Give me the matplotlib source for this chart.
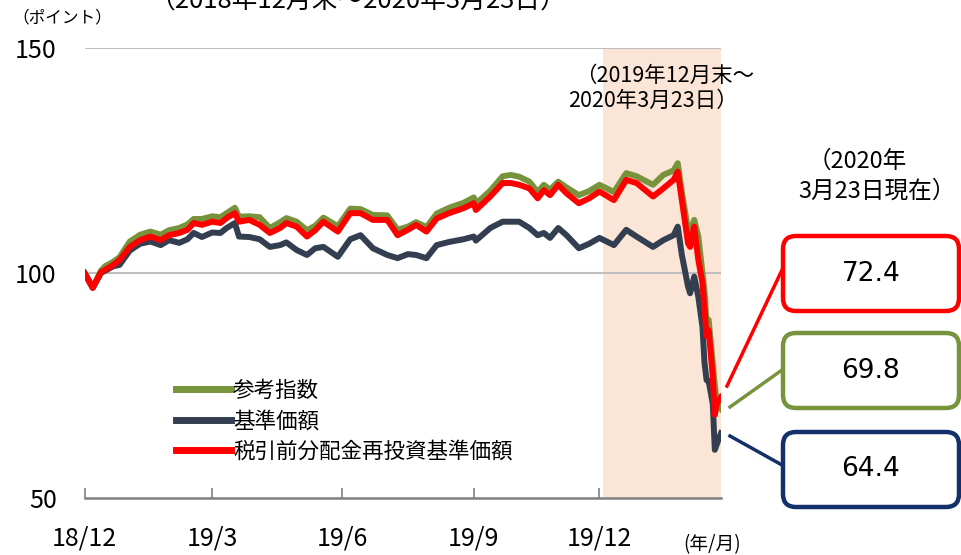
import matplotlib
matplotlib.use("Agg")
import matplotlib.pyplot as plt
from matplotlib.patches import FancyBboxPatch
from matplotlib.lines import Line2D

plt.rcParams['font.family'] = ['Noto Sans CJK JP', 'DejaVu Sans']

# business-day index (0 = 2018/12 end, 309 = 2020/3/23)
x_idx = [0, 4, 8, 10, 14, 17, 22, 27, 32, 37,
         41, 46, 50, 53, 57, 62, 66, 69, 73, 75,
         80, 85, 90, 95, 98, 103, 108, 112, 116, 123,
         129, 134, 140, 147, 152, 157, 161, 166, 171, 177,
         184, 189, 190, 197, 203, 207, 211, 216, 220, 223,
         226, 230, 234, 240, 245, 250, 257, 263, 268, 276,
         281, 286, 288, 290, 293, 294, 296, 298, 300, 301,
         302, 303, 305, 306, 307, 309]

ref_index = [100, 96.8, 100.5, 101.5, 102.5, 103.5, 107, 108.5, 109.2, 108.5,
             109.5, 110, 110.8, 112, 112, 112.6, 112.4, 113.3, 114.5, 112.5,
             112.6, 112.4, 110, 111.3, 112.2, 111.4, 109.5, 110.5, 112.3, 110.4,
             114.3, 114.2, 112.9, 112.8, 109.6, 110.3, 111.3, 110.2, 113.2, 114.5,
             115.6, 116.8, 115.4, 118.3, 121.5, 121.8, 121.4, 120.3, 118, 119.6,
             118.5, 120.3, 119, 117.3, 118.2, 119.6, 118, 122.2, 121.5, 119.6,
             121.8, 122.8, 124.4, 118, 109.6, 109, 111.8, 108.1, 100, 96,
             89, 89.6, 80, 75, 71, 69.8]

nav = [100, 96.7, 100, 100.5, 101.5, 101.8, 105, 106.5, 107, 106.2,
       107.3, 106.7, 107.5, 108.9, 108, 109, 108.9, 110, 111.1, 108.1,
       108, 107.5, 105.8, 106.2, 106.8, 105.1, 104, 105.5, 105.8, 103.6,
       107.5, 108.4, 105.5, 104, 103.3, 104.2, 104, 103.3, 106.2, 106.9,
       107.5, 108.1, 107.2, 110, 111.4, 111.4, 111.4, 110, 108.4, 108.9,
       107.8, 110, 108.4, 105.5, 106.5, 107.8, 106.2, 109.6, 108.1, 105.8,
       107.3, 108.4, 110.3, 104, 97, 95.5, 99.2, 94.7, 88, 80,
       76.2, 76, 71, 60.7, 62, 64.4]

nav_reinv = [100, 96.7, 100.2, 100.7, 101.8, 102.9, 105.8, 107.3, 108.1, 107.3,
             108.4, 108.9, 109.6, 111.1, 110.7, 111.4, 111.1, 112.2, 113.3, 111.4,
             111.8, 110.7, 108.9, 110, 111.1, 110.3, 108.1, 109.5, 111.4, 109.2,
             113.3, 113.3, 111.8, 111.8, 108.4, 109.6, 110.7, 109.2, 112.1, 113.3,
             114.4, 115.5, 114, 117, 120, 120, 119.6, 118.8, 116.6, 118.4,
             117.3, 119.6, 117.7, 115.5, 116.6, 118.1, 116.2, 120.7, 120, 117,
             118.8, 120.7, 122.5, 116.2, 106.6, 105.8, 110.3, 102.9, 97.8, 92,
             86, 87.3, 77, 68.5, 71, 72.4]

tick_pos = [0, 62, 125, 189, 250]
tick_lab = ["18/12", "19/3", "19/6", "19/9", "19/12"]
latest = ["72.4", "69.8", "64.4"]

c_green = "#77933C"
c_navy = "#333F50"
c_red = "#FF0000"

fig = plt.figure(figsize=(9.62, 5.55), dpi=100)
ax = fig.add_axes([84.5/962, 1-498/555, (721-84.5)/962, 450/555])

ax.axvspan(251.5, 309, color="#FBE5D6", lw=0, zorder=0)
for yv in [100, 150]:
    ax.axhline(yv, color="#BFBFBF", lw=1.5, zorder=1)

ax.plot(x_idx, ref_index, color=c_green, lw=4.3, label="参考指数", zorder=3,
        solid_joinstyle="round")
ax.plot(x_idx, nav, color=c_navy, lw=4.3, label="基準価額", zorder=4,
        solid_joinstyle="round")
ax.plot(x_idx, nav_reinv, color=c_red, lw=4.3, label="税引前分配金再投資基準価額",
        zorder=5, solid_joinstyle="round")

ax.set_xlim(0, 309)
ax.set_ylim(50, 150)
ax.set_yticks([50, 100, 150])
ax.set_yticklabels(["50", "100", "150"], fontsize=18)
ax.set_xticks(tick_pos)
ax.set_xticklabels(tick_lab, fontsize=18)
ax.tick_params(axis="x", direction="in", length=7, color="#808080", width=1.2, pad=20)
ax.tick_params(axis="y", length=0, pad=20)
for s in ["top", "right", "left"]:
    ax.spines[s].set_visible(False)
ax.spines["bottom"].set_color("#808080")
ax.spines["bottom"].set_linewidth(1.8)
ax.spines["bottom"].set_zorder(6)

leg = ax.legend(loc="upper left", bbox_to_anchor=(176/962, 1-380/555),
                bbox_transform=fig.transFigure, frameon=False, fontsize=15.5,
                handlelength=2.55, handletextpad=0.1, labelspacing=0.38,
                borderpad=0, borderaxespad=0)
for ln in leg.get_lines():
    ln.set_linewidth(5)

def fx(px):
    return px/962

def fy(py):
    return 1-py/555

fig.text(fx(12), fy(18), "（ポイント）", fontsize=12, va="center", ha="left")
fig.text(fx(358), fy(1), "（2018年12月末～2020年3月23日）", fontsize=18.5,
         va="center", ha="center")
fig.text(fx(754), fy(76), "（2019年12月末～", fontsize=15.5, va="center", ha="right")
fig.text(fx(738), fy(101), "2020年3月23日）", fontsize=15.5, va="center", ha="right")
fig.text(fx(712), fy(545), "(年/月)", fontsize=13.5, va="center", ha="center")
fig.text(fx(808), fy(161), "（2020年", fontsize=17, va="center", ha="left")
fig.text(fx(798), fy(191), "3月23日現在）", fontsize=17, va="center", ha="left")

# value boxes and connectors (in inches)
tr = fig.dpi_scale_trans
box_cols = [c_red, c_green, "#13306B"]
box_top = [236, 333, 432]
conn_from = [(727, 386), (730, 407), (730, 436)]
conn_to = [(782, 270), (782, 370), (782, 465)]
for i in range(3):
    y0 = box_top[i] + 75
    p = FancyBboxPatch((783/100, (555-y0)/100), 176/100, 75/100,
                       boxstyle="round,pad=0,rounding_size=0.13",
                       transform=tr, fill=True, facecolor="white",
                       edgecolor=box_cols[i], lw=3.2)
    fig.patches.append(p)
    fig.text((783+88)/962, fy(box_top[i]+37.5), latest[i], fontsize=19,
             family="DejaVu Sans", ha="center", va="center")
    (a, b), (c, d) = conn_from[i], conn_to[i]
    fig.lines.append(Line2D([a/100, c/100], [(555-b)/100, (555-d)/100],
                            transform=tr, color=box_cols[i], lw=2.5))

fig.savefig("out.png", dpi=100)
